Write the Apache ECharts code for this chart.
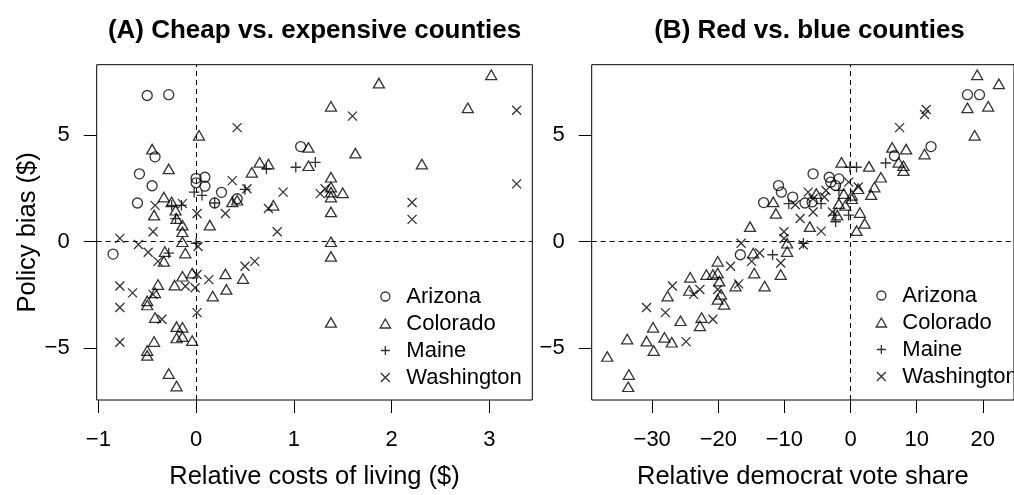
<!DOCTYPE html>
<html>
<head>
<meta charset="utf-8">
<script src="https://cdn.jsdelivr.net/npm/echarts@6/dist/echarts.min.js"></script>
<style>
  html, body { margin: 0; padding: 0; background: #fff; }
  #chart { width: 1014px; height: 495px; }
</style>
</head>
<body>
<div id="chart"></div>
<script>
// ---- data: [x, policy bias] per county ----
// Panel A: relative cost of living ($)
const costArizona = [[-0.50,6.87],[-0.28,6.91],[-0.42,3.99],[-0.58,3.19],[-0.45,2.63],[-0.60,1.82],[0.00,2.98],[0.09,3.03],[0.09,2.61],[0.00,2.77],[0.26,2.32],[0.42,2.02],[0.19,1.82],[1.07,4.47],[-0.85,-0.58]];
const costColorado = [[0.03,5.00],[-0.45,4.35],[-0.28,3.42],[-0.33,2.10],[-0.25,1.87],[-0.43,1.25],[-0.21,1.48],[-0.20,1.09],[-0.14,0.78],[-0.14,0.47],[0.14,0.78],[0.37,1.87],[0.42,1.95],[0.57,3.26],[0.65,3.73],[0.74,3.65],[0.79,1.71],[1.15,4.43],[1.15,3.57],[-0.14,0.00],[1.87,7.45],[3.02,7.84],[1.38,6.36],[2.78,6.29],[1.63,4.16],[2.31,3.65],[1.38,3.03],[1.38,2.57],[1.38,2.33],[1.38,2.10],[1.50,2.30],[1.38,1.40],[1.38,0.00],[1.38,-0.69],[1.38,-3.79],[-0.32,-0.46],[-0.33,-0.92],[-0.11,-0.53],[-0.39,-2.01],[-0.42,-2.40],[-0.50,-2.78],[-0.50,-2.97],[-0.22,-2.04],[-0.14,-1.62],[-0.04,-1.47],[0.30,-1.51],[0.48,-1.73],[0.31,-2.24],[0.17,-2.55],[-0.42,-3.56],[-0.20,-3.99],[-0.14,-4.02],[-0.20,-4.52],[-0.14,-4.46],[-0.04,-4.64],[-0.43,-4.69],[-0.50,-5.11],[-0.50,-5.34],[-0.28,-6.19],[-0.20,-6.78]];
const costMaine = [[-0.02,2.33],[0.06,2.18],[-0.25,1.71],[-0.15,1.71],[-0.21,1.09],[1.02,3.50],[0.50,2.46],[0.72,3.42],[0.00,-0.07],[0.19,1.82],[1.22,3.73],[-0.28,-0.53]];
const costWashington = [[0.42,5.36],[0.37,2.87],[0.89,2.33],[0.52,2.49],[0.30,1.33],[0.74,1.56],[0.83,0.47],[-0.42,1.71],[-0.44,0.47],[-0.78,0.16],[-0.59,-0.13],[0.01,1.33],[-0.14,1.79],[1.60,5.90],[3.28,6.18],[3.28,2.72],[2.21,1.84],[2.21,1.05],[1.27,2.26],[1.32,2.49],[-0.49,-0.49],[-0.39,-0.92],[-0.78,-2.08],[-0.65,-2.40],[-0.78,-3.09],[-0.78,-4.72],[-0.35,-3.64],[-0.44,-2.47],[0.01,-3.33],[-0.01,-2.16],[-0.11,-2.09],[0.13,-1.78],[0.50,-1.15],[0.60,-0.92],[0.02,-0.22],[0.01,-1.54]];

// Panel B: relative democrat vote share
const voteArizona = [[17.68,6.91],[19.50,6.91],[12.17,4.47],[6.64,4.04],[-5.67,3.19],[-3.23,3.03],[-2.99,2.80],[-1.76,2.95],[-2.26,2.64],[-10.90,2.64],[-10.47,2.33],[-8.75,2.10],[-13.15,1.84],[-6.89,1.82],[-5.82,1.87],[-16.67,-0.61]];
const voteColorado = [[19.15,7.84],[22.43,7.42],[17.68,6.29],[20.82,6.36],[18.77,5.00],[6.30,4.43],[8.40,4.35],[11.19,4.12],[7.27,3.73],[8.00,3.57],[8.00,3.34],[-1.37,3.73],[2.79,3.54],[4.59,3.03],[3.61,2.57],[3.12,2.21],[1.17,2.49],[0.19,2.18],[0.19,2.02],[1.41,1.37],[2.14,0.86],[0.92,0.52],[-0.79,1.71],[-1.76,1.79],[-1.03,2.26],[-5.19,2.26],[-6.16,0.71],[-11.69,1.87],[-11.29,1.33],[-15.20,0.71],[-9.59,-0.07],[-2.01,1.25],[-14.72,-0.53],[-9.59,-0.46],[-10.56,-1.54],[-13.00,-2.08],[-14.57,-1.47],[-20.09,-0.92],[-21.80,-1.54],[-20.82,-1.54],[-20.09,-1.47],[-19.85,-1.85],[-19.60,-2.47],[-19.12,-2.94],[-20.09,-2.71],[-17.40,-2.08],[-22.53,-3.56],[-22.79,-3.95],[-24.25,-1.67],[-24.40,-2.29],[-27.67,-2.55],[-25.72,-3.71],[-29.87,-4.02],[-33.78,-4.57],[-30.85,-4.67],[-28.15,-4.49],[-27.04,-4.72],[-29.77,-5.11],[-36.80,-5.39],[-33.53,-6.24],[-33.63,-6.81]];
const voteMaine = [[-0.10,3.50],[0.90,3.50],[5.32,3.70],[-9.34,1.79],[-4.45,1.79],[-2.49,1.25],[-2.26,0.94],[-0.29,1.25],[-1.76,2.41],[-7.14,-0.07],[-11.79,-0.61]];
const voteWashington = [[11.44,6.21],[11.19,5.98],[7.42,5.36],[-0.29,2.80],[1.17,2.57],[-3.72,2.41],[-6.41,2.33],[-5.67,2.02],[-3.96,2.10],[-8.36,1.74],[-5.67,1.40],[-7.62,1.09],[-4.45,0.50],[-10.07,0.47],[-10.07,0.15],[-16.55,-0.07],[-2.74,1.40],[-18.14,-1.15],[-13.74,-0.53],[-14.96,-0.92],[-10.56,-1.00],[-7.14,-0.15],[-22.79,-2.24],[-20.09,-2.24],[-16.92,-1.98],[-20.82,-3.64],[-26.94,-2.08],[-23.75,-2.47],[-30.85,-3.09],[-28.00,-3.33],[-24.88,-4.69]];

// ---- labels and ticks ----
const states = ['Arizona', 'Colorado', 'Maine', 'Washington'];
const panelTitles = ['(A) Cheap vs. expensive counties', '(B) Red vs. blue counties'];
const xTitles = ['Relative costs of living ($)', 'Relative democrat vote share'];
const yTitle = 'Policy bias ($)';
const xTicksA = [-1, 0, 1, 2, 3];
const xTicksB = [-30, -20, -10, 0, 10, 20];
const yTicks = [-5, 0, 5];

// ---- drawing ----
const FONT = '"Liberation Sans", Arial, Helvetica, sans-serif';
const stateSymbol = {
  Arizona: 'circle',
  Colorado: 'triangle',
  Maine: 'path://M5,0L5,10M0,5L10,5',
  Washington: 'path://M0,0L10,10M10,0L0,10'
};
// legend icons keep their aspect ratio, so the triangle is given as a path
const legendIcon = Object.assign({}, stateSymbol, { Colorado: 'path://M5,0L10,8.66L0,8.66Z' });
const stateSize = { Arizona: 10, Colorado: [11, 9.5], Maine: 10.5, Washington: 9 };
const hollow = { color: 'transparent', borderColor: '#000', borderWidth: 1.3 };
const minus = v => String(v).replace('-', '\u2212');

function yAxisFor(gridIndex, withName) {
  return {
    gridIndex, type: 'value', min: -7.433, max: 8.316,
    axisLine: { show: false, onZero: false }, splitLine: { show: false },
    axisTick: { show: true, length: 13, customValues: yTicks, lineStyle: { color: '#000', width: 1 } },
    axisLabel: { customValues: yTicks, margin: 27, fontSize: 22, color: '#000', fontFamily: FONT, formatter: minus },
    name: withName ? yTitle : '', nameLocation: 'middle', nameGap: 54,
    nameTextStyle: { fontSize: 25.5, color: '#000', fontFamily: FONT }
  };
}
function xAxisFor(gridIndex, min, max, ticks, title) {
  return {
    gridIndex, type: 'value', position: 'bottom', min, max,
    axisLine: { show: false, onZero: false }, splitLine: { show: false },
    axisTick: { show: true, length: 13, customValues: ticks, lineStyle: { color: '#000', width: 1 } },
    axisLabel: { customValues: ticks, margin: 29, fontSize: 22, color: '#000', fontFamily: FONT, formatter: minus },
    name: title, nameLocation: 'middle', nameGap: 64,
    nameTextStyle: { fontSize: 25.5, color: '#000', fontFamily: FONT }
  };
}
function panelSeries(gridIndex, dataByState) {
  return states.map((s, i) => {
    const ser = {
      type: 'scatter', name: s, xAxisIndex: gridIndex, yAxisIndex: gridIndex,
      data: dataByState[i], symbol: stateSymbol[s], symbolSize: stateSize[s],
      itemStyle: hollow, emphasis: { disabled: true }, silent: true
    };
    if (i === 0) {
      // dashed reference lines at x = 0 and y = 0
      ser.markLine = {
        silent: true, symbol: ['none', 'none'], label: { show: false },
        lineStyle: { type: [5, 4], color: '#000', width: 1 },
        emphasis: { disabled: true },
        data: [{ xAxis: 0 }, { yAxis: 0 }]
      };
    }
    return ser;
  });
}
// left edge given is the left edge of the drawn icons
function legendAt(left, top) {
  return {
    left, top, orient: 'vertical', padding: 0, itemGap: 0,
    itemWidth: 32, itemHeight: 9, symbolKeepAspect: true, selectedMode: false,
    itemStyle: hollow,
    textStyle: { fontSize: 22, lineHeight: 27, color: '#000', fontFamily: FONT },
    data: states.map(s => ({ name: s, icon: legendIcon[s] }))
  };
}
function titleText(x, text) {
  return {
    type: 'text', x, y: 31, silent: true,
    style: { text, font: 'bold 26px ' + FONT, fill: '#000',
             textAlign: 'center', textVerticalAlign: 'middle', align: 'center', verticalAlign: 'middle' }
  };
}

const chart = echarts.init(document.getElementById('chart'), null, { renderer: 'canvas' });
chart.setOption({
  animation: false,
  backgroundColor: '#fff',
  textStyle: { fontFamily: FONT },
  grid: [
    { left: 96.7, top: 64.7, width: 435.6, height: 338.6, show: true, borderColor: '#000', borderWidth: 1, containLabel: false },
    { left: 591.7, top: 64.7, width: 435.6, height: 338.6, show: true, borderColor: '#000', borderWidth: 1, containLabel: false }
  ],
  xAxis: [
    xAxisFor(0, -1.017, 3.44, xTicksA, xTitles[0]),
    xAxisFor(1, -39.15, 24.72, xTicksB, xTitles[1])
  ],
  yAxis: [yAxisFor(0, true), yAxisFor(1, false)],
  legend: [legendAt(379.5, 283), legendAt(875.5, 282)],
  graphic: [titleText(314.5, panelTitles[0]), titleText(809.5, panelTitles[1])],
  series: [
    ...panelSeries(0, [costArizona, costColorado, costMaine, costWashington]),
    ...panelSeries(1, [voteArizona, voteColorado, voteMaine, voteWashington])
  ]
});
</script>
</body>
</html>
